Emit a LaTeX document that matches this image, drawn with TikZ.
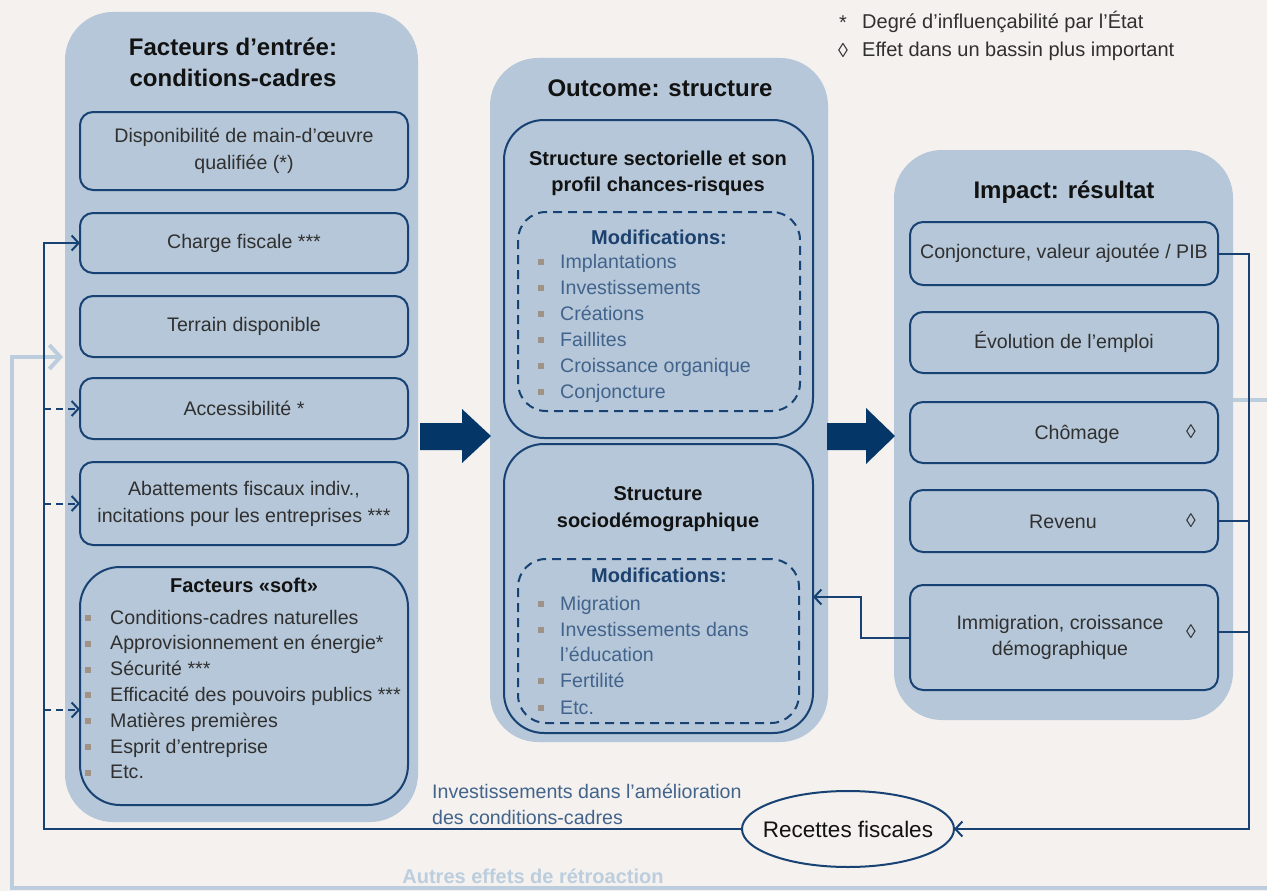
\documentclass[tikz,border=0pt]{standalone}
\usepackage{fontspec}
\setmainfont{Liberation Sans}
\usetikzlibrary{arrows.meta,shapes.geometric,calc}
\definecolor{bgc}{RGB}{244,241,238}
\definecolor{panelc}{RGB}{181,199,216}
\definecolor{bordc}{RGB}{24,66,115}
\definecolor{arrc}{RGB}{4,55,103}
\definecolor{txtc}{RGB}{48,48,48}
\definecolor{ttlc}{RGB}{18,18,18}
\definecolor{modc}{RGB}{28,65,110}
\definecolor{itemc}{RGB}{66,100,140}
\definecolor{bulc}{RGB}{160,146,135}
\definecolor{lightc}{RGB}{188,206,222}
\newcommand\fntbody{\fontsize{19.6pt}{27pt}\selectfont}
\newcommand\fntttl{\bfseries\fontsize{24pt}{30pt}\selectfont}
\newcommand\fntsub{\bfseries\fontsize{20pt}{26pt}\selectfont}
\newcommand\fntleg{\fontsize{20pt}{26pt}\selectfont}
\begin{document}
\begin{tikzpicture}[x=1pt,y=-1pt,
  panel/.style={fill=panelc, rounded corners=48pt, inner sep=0pt, outer sep=0pt},
  ibox/.style={draw=bordc, line width=2pt, rounded corners=13pt, fill=panelc, text=txtc, align=center, font=\fntbody, inner sep=0pt, outer sep=0pt},
  sbox/.style={ibox, rounded corners=40pt},
  dbox/.style={draw=bordc, line width=2pt, dash pattern=on 9pt off 6pt, rounded corners=28pt, inner sep=0pt, outer sep=0pt},
  ttl/.style={font=\fntttl, text=ttlc, anchor=base, inner sep=0pt},
  sub/.style={font=\fntsub, text=ttlc, anchor=base, inner sep=0pt},
  modh/.style={font=\fntsub, text=modc, anchor=base, inner sep=0pt},
  item/.style={font=\fntbody, text=itemc, anchor=base west, inner sep=0pt},
  sitem/.style={font=\fntbody, text=txtc, anchor=base west, inner sep=0pt},
  txt/.style={font=\fntbody, text=txtc, anchor=base, inner sep=0pt},
  legt/.style={font=\fntleg, text=txtc, anchor=base west, inner sep=0pt},
  bul/.style={fill=bulc, minimum size=6pt, inner sep=0pt},
  fb/.style={draw=bordc, line width=2pt},
  tip/.style={-{Straight Barb[length=7pt,width=15pt]}},
  fbd/.style={fb, dash pattern=on 7pt off 5pt},
  light/.style={draw=lightc, line width=4pt},
]
\fill[bgc] (0,0) rectangle (1267,891);
\useasboundingbox (0,0) rectangle (1267,891);

% panels
\node[panel, minimum width=353pt, minimum height=810pt] (lp) at (241.5,417) {};
\node[panel, minimum width=338pt, minimum height=684pt] (mp) at (659,400) {};
\node[panel, minimum width=339pt, minimum height=570pt] (rp) at (1063.5,435) {};

% legend
\node[font=\fntleg, text=txtc, inner sep=0pt] (lg1s) at (843,23) {*};
\node[legt] (lg1) at (862,29) {Degré d’influençabilité par l’État};
\node[font=\fntleg, text=txtc, inner sep=0pt] (lg2s) at (843,50) {◊};
\node[legt] (lg2) at (862,57) {Effet dans un bassin plus important};

% left column
\node[ttl] (lt1) at (233,56) {Facteurs d’entrée:};
\node[ttl] (lt2) at (233,86) {conditions-cadres};
\node[ibox, minimum width=328pt, minimum height=78pt] (b1) at (244,151) {Disponibilité de main-d’œuvre\\qualifiée (*)};
\node[ibox, minimum width=328pt, minimum height=60pt] (b2) at (244,243) {Charge fiscale ***};
\node[ibox, minimum width=328pt, minimum height=61pt] (b3) at (244,326.5) {Terrain disponible};
\node[ibox, minimum width=328pt, minimum height=61pt] (b4) at (244,408.5) {Accessibilité *};
\node[ibox, minimum width=328pt, minimum height=83pt] (b5) at (244,503.5) {Abattements fiscaux indiv.,\\incitations pour les entreprises ***};
\node[sbox, minimum width=328pt, minimum height=238pt] (soft) at (244,686) {};
\node[sub] (softt) at (244,592) {Facteurs «soft»};
\foreach \t [count=\i] in {Conditions-cadres naturelles, Approvisionnement en énergie*, Sécurité ***, Efficacité des pouvoirs publics ***, Matières premières, Esprit d’entreprise, Etc.}{
  \node[bul] (sb\i) at (88,{618+25.8*(\i-1)}) {};
  \node[sitem] (si\i) at (110,{624+25.8*(\i-1)}) {\t};
}

% middle column
\node[ttl] (mt) at (660,96) {Outcome: structure};
\node[sbox, minimum width=309pt, minimum height=318pt] (sA) at (658.5,279) {};
\node[sub] (sAt1) at (658,165) {Structure sectorielle et son};
\node[sub] (sAt2) at (658,191) {profil chances-risques};
\node[dbox, minimum width=282pt, minimum height=199pt] (dA) at (659,311.5) {};
\node[modh] (mA) at (659,244) {Modifications:};
\foreach \t [count=\i] in {Implantations, Investissements, Créations, Faillites, Croissance organique, Conjoncture}{
  \node[bul] (ab\i) at (541,{262+26*(\i-1)}) {};
  \node[item] (ai\i) at (560,{268+26*(\i-1)}) {\t};
}
\node[sbox, minimum width=309pt, minimum height=289pt] (sB) at (658.5,588.5) {};
\node[sub] (sBt1) at (658,500) {Structure};
\node[sub] (sBt2) at (658,527) {sociodémographique};
\node[dbox, minimum width=281pt, minimum height=164pt] (dB) at (658.5,641) {};
\node[modh] (mB) at (659,582) {Modifications:};
\node[bul] (bb1) at (541,604) {};
\node[item] (bi1) at (560,610) {Migration};
\node[bul] (bb2) at (541,630) {};
\node[item] (bi2) at (560,636) {Investissements dans};
\node[item] (bi3) at (560,661) {l’éducation};
\node[bul] (bb4) at (541,681) {};
\node[item] (bi4) at (560,687) {Fertilité};
\node[bul] (bb5) at (541,708) {};
\node[item] (bi5) at (560,714) {Etc.};

% right column
\node[ttl] (rt) at (1064,198) {Impact: résultat};
\node[ibox, minimum width=308pt, minimum height=63pt] (r1) at (1064,253.5) {Conjoncture, valeur ajoutée / PIB};
\node[ibox, minimum width=308pt, minimum height=61pt] (r2) at (1064,342.5) {Évolution de l’emploi};
\node[ibox, minimum width=308pt, minimum height=61pt] (r3) at (1064,432.5) {};
\node[txt] (r3t) at (1077,439) {Chômage};
\node[font=\fntbody, text=txtc, inner sep=0pt] (r3d) at (1191,432) {◊};
\node[ibox, minimum width=308pt, minimum height=62pt] (r4) at (1064,521) {};
\node[txt] (r4t) at (1063,528) {Revenu};
\node[font=\fntbody, text=txtc, inner sep=0pt] (r4d) at (1191,521) {◊};
\node[ibox, minimum width=308pt, minimum height=105pt] (r5) at (1064,637.5) {};
\node[txt] (r5t1) at (1060,629) {Immigration, croissance};
\node[txt] (r5t2) at (1060,655) {démographique};
\node[font=\fntbody, text=txtc, inner sep=0pt] (r5d) at (1191,632) {◊};

% big arrows
\fill[arrc] (420,423) -- (462,423) -- (462,409) -- (491,436) -- (462,463) -- (462,450) -- (420,450) -- cycle;
\fill[arrc] (827,423) -- (866,423) -- (866,408) -- (895,436) -- (866,464) -- (866,450) -- (827,450) -- cycle;

% recettes fiscales
\node[ellipse, draw=bordc, line width=2pt, fill=bgc, minimum width=212pt, minimum height=76pt, inner sep=0pt, outer sep=0pt] (rf) at (848,829) {};
\node[text=ttlc, font=\fontsize{22.5pt}{26pt}\selectfont, inner sep=0pt] (rft) at (rf.center) {Recettes fiscales};
\node[font=\fntbody, text=itemc, anchor=base west, inner sep=0pt] (inv1) at (432,798) {Investissements dans l’amélioration};
\node[font=\fntbody, text=itemc, anchor=base west, inner sep=0pt] (inv2) at (432,824) {des conditions-cadres};
\node[font=\fntsub, text=lightc, anchor=base, inner sep=0pt] (aut) at (533,883) {Autres effets de rétroaction};

% other feedback (light)
\coordinate (l0) at (1233,400);
\coordinate (lr) at (1272,400);
\coordinate (lbr) at (1272,888);
\coordinate (lbl) at (12,888);
\coordinate (ltl) at (12,357);
\coordinate (lend) at (63,357);
\draw[light, -{Straight Barb[length=11pt,width=24pt]}] (l0) -- (lr) -- (lbr) -- (lbl) -- (ltl) -- (lend);

% fiscal feedback (dark)
\coordinate (dv) at (44,829);
\coordinate (rv) at (1249,829);
\draw[fb, tip] (rf.west) -- (dv) |- (b2.west);
\draw[fbd, tip] (dv |- b4.west) -- (b4.west);
\draw[fbd, tip] (dv |- b5.west) -- (b5.west);
\coordinate (sw) at (80,710);
\draw[fbd, tip] (dv |- sw) -- (sw);
\draw[fb, tip] (r1.east) -| (rv) -- (rf.east);
\draw[fb] (r4.east) -- (r4.east -| rv);
\coordinate (r5e) at (1218,632);
\draw[fb] (r5e) -- (r5e -| rv);
\coordinate (m1) at (861,597);
\draw[fb, tip] (r5.west) -| (m1) -- (m1 -| sB.east);
\end{tikzpicture}
\end{document}
